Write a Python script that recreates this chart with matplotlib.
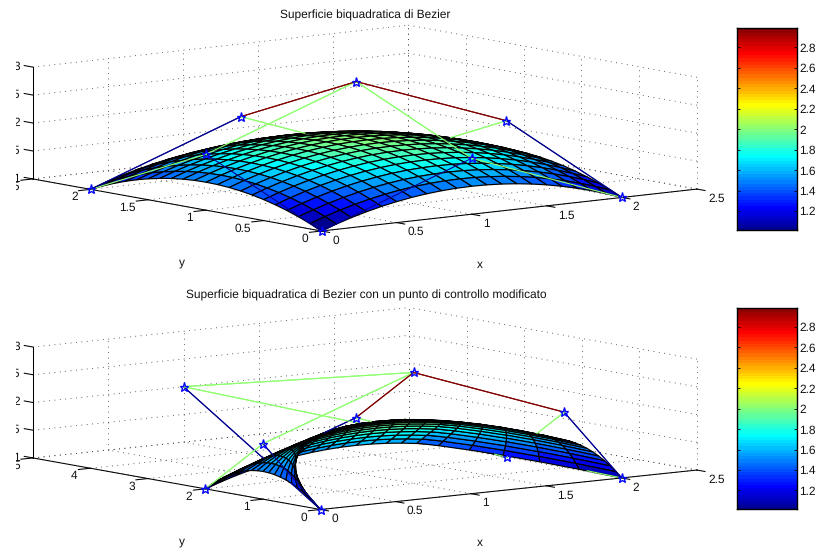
import math

import matplotlib
matplotlib.use("Agg")
import matplotlib.pyplot as plt
import numpy as np
from matplotlib.colors import ListedColormap
from matplotlib.transforms import Bbox
from mpl_toolkits.mplot3d import proj3d

# control net, first index runs along x, second along y
ctrl_x = [[0, 0, 0], [1, 1, 1], [2, 2, 2]]
ctrl_y_top = [[0, 1, 2], [0, 1, 2], [0, 1, 2]]
ctrl_y_bottom = [[0, 1, 2], [5, 1, 2], [0, 1, 2]]
ctrl_z = [[1, 2, 1], [2, 3, 2], [1, 2, 1]]

x_ticks = [0, 0.5, 1, 1.5, 2, 2.5]
x_tick_labels = ["0", "0.5", "1", "1.5", "2", "2.5"]
y_ticks_top = [0, 0.5, 1, 1.5, 2, 2.5]
y_tick_labels_top = ["0", "0.5", "1", "1.5", "2", "2.5"]
y_ticks_bottom = [0, 1, 2, 3, 4, 5]
y_tick_labels_bottom = ["0", "1", "2", "3", "4", "5"]
z_ticks = [1, 1.5, 2, 2.5, 3]
z_tick_labels = ["1", "1.5", "2", "2.5", "3"]
cbar_ticks = [1.2, 1.4, 1.6, 1.8, 2, 2.2, 2.4, 2.6, 2.8]
cbar_tick_labels = ["1.2", "1.4", "1.6", "1.8", "2", "2.2", "2.4", "2.6", "2.8"]

title_top = "Superficie biquadratica di Bezier"
title_bottom = "Superficie biquadratica di Bezier con un punto di controllo modificato"

W, H = 820, 549
FONT = 8.6
BLUE = (0, 0, 1)

plt.rcParams["font.family"] = ["Liberation Sans", "DejaVu Sans"]
plt.rcParams["text.hinting"] = "none"


def matlab_jet(m=64):
    n = math.ceil(m / 4)
    u = np.concatenate([np.arange(1, n + 1) / n, np.ones(n - 1), np.arange(n, 0, -1) / n])
    g = math.ceil(n / 2) - (m % 4 == 1) + np.arange(1, len(u) + 1)
    r, b = g + n, g - n
    rgb = np.zeros((m, 3))
    keep = r <= m
    rgb[r[keep] - 1, 0] = u[: keep.sum()]
    keep = g <= m
    rgb[g[keep] - 1, 1] = u[: keep.sum()]
    keep = b >= 1
    rgb[b[keep] - 1, 2] = u[-keep.sum():]
    return rgb


JET = matlab_jet()


def jet_color(z):
    idx = np.clip(np.floor((np.asarray(z, dtype=float) - 1) / 2 * 64).astype(int), 0, 63)
    return JET[idx]


def bezier_surface(cx, cy, cz, n=21):
    # the surface is not read off the picture: it is evaluated from the control net
    t = np.linspace(0, 1, n)
    b = np.stack([(1 - t) ** 2, 2 * t * (1 - t), t ** 2], axis=1)
    return [b @ np.asarray(c, dtype=float) @ b.T for c in (cx, cy, cz)]


def project(ax, x, y, z):
    return proj3d.proj_transform(np.asarray(x, float), np.asarray(y, float), np.asarray(z, float), ax.get_proj())


def fit_axes(ax, ymax, target):
    """Move the square 3D axes so the box corners land on the wanted pixels."""
    o, xe, ye, ze = [np.array([p[0], H - p[1]], float) for p in target]
    corners = ([0, 2.5, 0, 0], [0, 0, ymax, ymax], [1, 1, 1, 3])
    want = np.array([xe - o, ye - o, ze - ye])
    side, left, bottom = 600.0, 100.0, -30.0
    for _ in range(3):
        ax.set_position([left / W, bottom / H, side / W, side / H])
        ax.apply_aspect()
        px, py, _z = project(ax, *corners)
        got = ax.transData.transform(np.column_stack([px, py]))
        have = np.array([got[1] - got[0], got[2] - got[0], got[3] - got[2]])
        scale = (want * have).sum() / (have * have).sum()
        side *= scale
        left = o[0] - (got[0][0] - left) * scale
        bottom = o[1] - (got[0][1] - bottom) * scale
    ax.set_position([left / W, bottom / H, side / W, side / H])
    ax.apply_aspect()


def front_mask(ax, sx, sy, sz, xs, ys, zs):
    """True for sample points that no part of the surface covers."""
    near = project(ax, [0], [0], [1])[2][0]
    far = project(ax, [2.5], [max(ys.max(), 2.5)], [1])[2][0]
    sign = 1 if near > far else -1
    u, v, d = project(ax, sx.ravel(), sy.ravel(), sz.ravel())
    d = sign * d
    n = sx.shape[0]
    i, j = np.meshgrid(np.arange(n - 1), np.arange(n - 1), indexing="ij")
    a, b, c, e = i * n + j, (i + 1) * n + j, (i + 1) * n + j + 1, i * n + j + 1
    tris = np.concatenate([np.stack([a, b, c], -1).reshape(-1, 3), np.stack([a, c, e], -1).reshape(-1, 3)])
    pu, pv, pd = project(ax, xs, ys, zs)
    pd = sign * pd
    eps = 2e-3 * (d.max() - d.min())
    x0, y0 = u[tris[:, 0]], v[tris[:, 0]]
    ux, uy = u[tris[:, 1]] - x0, v[tris[:, 1]] - y0
    vx, vy = u[tris[:, 2]] - x0, v[tris[:, 2]] - y0
    det = ux * vy - uy * vx
    det[np.abs(det) < 1e-14] = 1e-14
    out = np.ones(len(xs), dtype=bool)
    for k in range(len(xs)):
        l1 = ((pu[k] - x0) * vy - (pv[k] - y0) * vx) / det
        l2 = (ux * (pv[k] - y0) - uy * (pu[k] - x0)) / det
        inside = (l1 >= 0) & (l2 >= 0) & (l1 + l2 <= 1)
        if not inside.any():
            continue
        depth = d[tris[:, 0]] + l1 * (d[tris[:, 1]] - d[tris[:, 0]]) + l2 * (d[tris[:, 2]] - d[tris[:, 0]])
        if (depth[inside] > pd[k] + eps).any():
            out[k] = False
    return out


def draw_net_segment(ax, p, q, color, surf):
    ax.plot([p[0], q[0]], [p[1], q[1]], [p[2], q[2]], color=color, lw=0.8, zorder=2, clip_on=False)
    t = np.linspace(0, 1, 90)
    xs = p[0] + t * (q[0] - p[0])
    ys = p[1] + t * (q[1] - p[1])
    zs = p[2] + t * (q[2] - p[2])
    front = front_mask(ax, *surf, xs, ys, zs)
    edges = np.flatnonzero(np.diff(np.concatenate([[0], front.astype(int), [0]])))
    for start, stop in zip(edges[::2], edges[1::2]):
        if stop - start > 1:
            ax.plot(xs[start:stop], ys[start:stop], zs[start:stop], color=color, lw=0.8, zorder=4, clip_on=False)


def tick_text(ax, x, y, z, text, dx, dy, ha, clip=None):
    px, py, _ = project(ax, [x], [y], [z])
    t = ax.annotate(text, xy=(px[0], py[0]), xycoords="data", xytext=(dx, dy), textcoords="offset pixels",
                    ha=ha, va="center", fontsize=FONT, color="#111111", annotation_clip=False, zorder=6)
    if clip is not None:
        t.set_clip_box(clip)
        t.set_clip_on(True)


def draw_panel(fig, cy, yticks, ylabels, view, aspect, target):
    ymax = yticks[-1]
    ax = fig.add_subplot(projection="3d", computed_zorder=False, proj_type="ortho")
    ax.set_xlim(0, 2.5, view_margin=0)
    ax.set_ylim(0, ymax, view_margin=0)
    ax.set_zlim(1, 3, view_margin=0)
    ax.set_box_aspect(aspect)
    ax.view_init(elev=view[0], azim=view[1])
    ax.set_axis_off()
    ax.patch.set_alpha(0)
    fit_axes(ax, ymax, target)

    grid = dict(color="#333333", lw=0.6, ls=(0, (1, 5.5)), zorder=1, clip_on=False)
    for x in x_ticks:
        ax.plot([x, x], [0, ymax], [1, 1], **grid)
        ax.plot([x, x], [ymax, ymax], [1, 3], **grid)
    for y in yticks:
        ax.plot([0, 2.5], [y, y], [1, 1], **grid)
        ax.plot([2.5, 2.5], [y, y], [1, 3], **grid)
    for z in z_ticks:
        ax.plot([0, 2.5], [ymax, ymax], [z, z], **grid)
        ax.plot([2.5, 2.5], [0, ymax], [z, z], **grid)

    axis = dict(color="black", lw=0.75, zorder=1.5, clip_on=False)
    ax.plot([0, 2.5], [0, 0], [1, 1], **axis)
    ax.plot([0, 0], [0, ymax], [1, 1], **axis)
    ax.plot([0, 0], [ymax, ymax], [1, 3], **axis)
    for x in x_ticks:
        ax.plot([x, x], [0, -0.028 * ymax], [1, 1], **axis)
    for y in yticks:
        ax.plot([0, -0.08], [y, y], [1, 1], **axis)
    for z in z_ticks:
        ax.plot([0, 0], [ymax, 1.03 * ymax], [z, z], **axis)

    left_crop = Bbox([[15.5, 0], [W, H]])
    for x, lab in zip(x_ticks, x_tick_labels):
        tick_text(ax, x, 0, 1, lab, 11, -9.5, "left")
    for y, lab in zip(yticks, ylabels):
        tick_text(ax, 0, y, 1, lab, -13, -8, "right", clip=left_crop)
    for z, lab in zip(z_ticks, z_tick_labels):
        tick_text(ax, 0, ymax, z, lab, -13, 0.5, "right", clip=left_crop)

    surf = bezier_surface(ctrl_x, cy, ctrl_z)
    ax.plot_surface(*surf, facecolors=jet_color(surf[2]), rstride=1, cstride=1, shade=False,
                    edgecolor="black", linewidth=0.85, antialiased=True, zorder=3)

    cx_arr, cy_arr, cz_arr = np.array(ctrl_x, float), np.array(cy, float), np.array(ctrl_z, float)
    pts = np.stack([cx_arr, cy_arr, cz_arr], -1)
    for i in range(3):
        for j in range(3):
            color = tuple(jet_color(cz_arr[i, j]))
            if i < 2:
                draw_net_segment(ax, pts[i, j], pts[i + 1, j], color, surf)
            if j < 2:
                draw_net_segment(ax, pts[i, j], pts[i, j + 1], color, surf)
    front = front_mask(ax, *surf, cx_arr.ravel(), cy_arr.ravel(), cz_arr.ravel())
    star = dict(marker="*", ls="none", ms=6.8, mfc="none", mec=BLUE, mew=0.95, clip_on=False)
    for xp, yp, zp, is_front in zip(cx_arr.ravel(), cy_arr.ravel(), cz_arr.ravel(), front):
        ax.plot([xp], [yp], [zp], zorder=5 if is_front else 2, **star)
    return ax


def draw_colorbar(fig, top_px, bottom_px):
    ax = fig.add_axes([737.3 / W, (H - bottom_px) / H, 59.4 / W, (bottom_px - top_px) / H])
    ax.imshow(np.arange(64).reshape(-1, 1), cmap=ListedColormap(JET), origin="lower", aspect="auto",
              extent=(0, 1, 1, 3), interpolation="nearest")
    ax.set_xlim(0, 1)
    ax.set_ylim(1 + 1 / 64, 3 - 1 / 64)
    ax.set_xticks([])
    ax.set_yticks(cbar_ticks, cbar_tick_labels, fontsize=FONT, color="#111111")
    ax.yaxis.tick_right()
    ax.tick_params(axis="y", which="major", direction="in", length=2, width=0.6, left=True, right=True, pad=2)
    for spine in ax.spines.values():
        spine.set_linewidth(1.0)


def main() -> None:
    fig = plt.figure(figsize=(W / 100, H / 100), dpi=100)
    draw_panel(fig, ctrl_y_top, y_ticks_top, y_tick_labels_top, (8.16, -128.2), (477.8, 466.8, 113),
               [(321.5, 231), (697, 189), (33, 179), (33, 67)])
    draw_panel(fig, ctrl_y_bottom, y_ticks_bottom, y_tick_labels_bottom, (7.88, -127.4), (474, 473.6, 112),
               [(320.5, 509.5), (697, 470), (33, 458), (33, 347)])
    draw_colorbar(fig, 28.3, 230)
    draw_colorbar(fig, 308, 509.3)

    texts = [(365, 15.5, title_top), (366, 295.5, title_bottom), (182, 262, "y"), (480, 265, "x"),
             (182, 541, "y"), (480, 543, "x")]
    for x, y, s in texts:
        fig.text(x / W, 1 - y / H, s, ha="center", va="center", fontsize=FONT, color="#111111")
    fig.savefig("out.png", dpi=100)


if __name__ == "__main__":
    main()
